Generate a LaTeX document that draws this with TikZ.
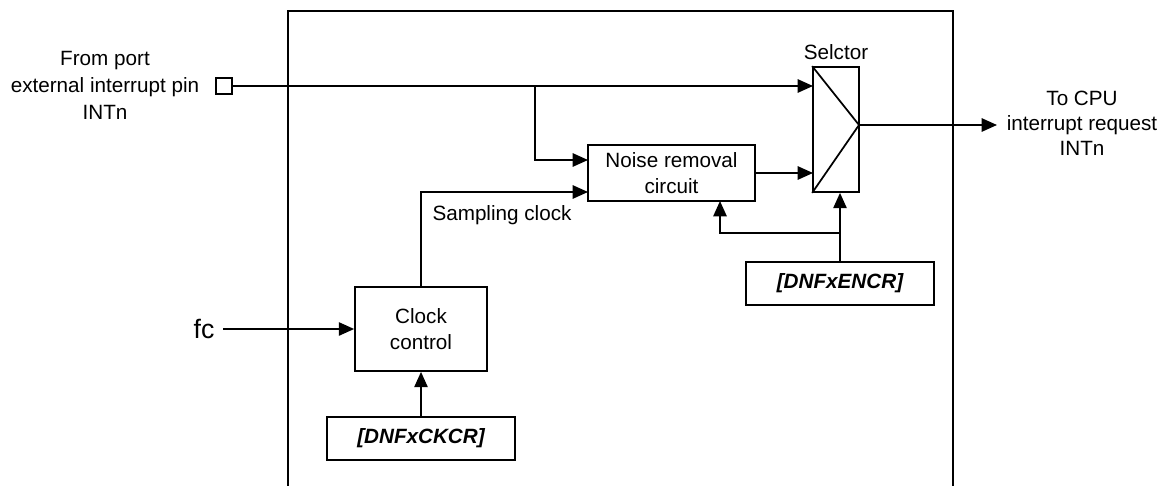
\documentclass[tikz,border=0pt]{standalone}
\usepackage{fontspec}
\setmainfont{Liberation Sans}
\usetikzlibrary{ arrows.meta, % For the filled arrow tips
                 positioning, % For easy node-relative placements
               }

\tikzset{
  blk/.style={draw, rectangle, align=center, inner sep=0pt},
  lbl/.style={align=center, inner sep=0pt},
  reg/.style={blk, minimum width=141pt, minimum height=32.25pt,
              font=\fontsize{15.5}{19}\selectfont\bfseries\itshape},
}

\begin{document}
\begin{tikzpicture}[x=0.75pt, y=-0.75pt, line width=1.3pt,
                    font=\fontsize{15.5}{19.5}\selectfont,
                    >={Triangle[length=11.5pt,width=10pt]}] % coordinates in px
  \useasboundingbox (0,0) rectangle (1166,485);

  % outer frame, open at the bottom
  \draw (288,486) -- (288,11) -- (953,11) -- (953,486);

  \node[blk, minimum size=12pt] (pin) at (224,86) {};
  \node[lbl, font=\fontsize{15.5}{20.25}\selectfont] (from_port) at (105,85) {From port\\external interrupt pin\\INTn};

  \node[blk, minimum width=34.5pt, minimum height=93.75pt] (selector) at (836,129.5) {};
  \node[lbl] (selector_lbl) at (836,52) {Selctor};

  \node[blk, minimum width=125.25pt, minimum height=42pt] (noise) at (671.5,173) {Noise removal\\circuit};
  \node[blk, minimum width=99pt, minimum height=63pt] (clock) at (421,329) {Clock\\control};
  \node[reg] (encr) at (840,283.5) {[DNFxENCR]};
  \node[reg] (ckcr) at (421,438.5) {[DNFxCKCR]};

  \node[lbl, font=\fontsize{20}{24}\selectfont] (fc) at (204,329) {fc};
  \node[lbl] (sampling) at (502,215) {Sampling clock};
  \node[lbl, font=\fontsize{15.5}{18.75}\selectfont] (to_cpu) at (1082,123) {To CPU\\interrupt request\\INTn};

  \coordinate (sel_tip) at (859,125);
  \coordinate (split_in) at (535,86);
  \coordinate (noise_in1) at (588,160);
  \coordinate (noise_in2) at (588,192);
  \coordinate (sel_in1) at (813,86);
  \coordinate (sel_in2) at (813,173);
  \coordinate (split_fb) at (840,233);
  \coordinate (noise_fb) at (720,201);
  \coordinate (cpu_end) at (997,125);
  \coordinate (fc_end) at (223,329);

  \draw (selector.north west) -- (sel_tip) -- (selector.south west);

  \draw[->] (pin) -- (sel_in1);
  \draw[->] (split_in) |- (noise_in1);
  \draw[->] (clock.north) |- (noise_in2);
  \draw[->] (noise.east) -- (sel_in2);
  \draw[->] (encr.north) -- (encr.north |- selector.south);
  \draw[->] (split_fb) -| (noise_fb);
  \draw[->] (ckcr) -- (clock);
  \draw[->] (fc_end) -- (clock.west);
  \draw[->] (sel_tip) -- (cpu_end);

\end{tikzpicture}
\end{document}
